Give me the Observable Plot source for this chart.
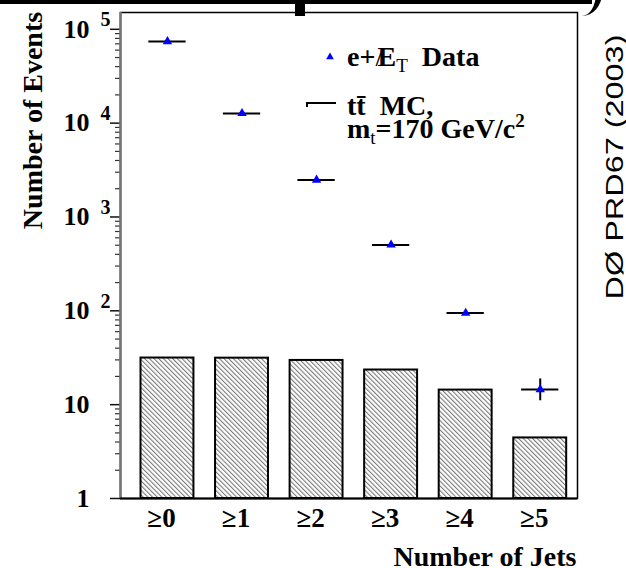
<!DOCTYPE html>
<html>
<head>
<meta charset="utf-8">
<script src="https://cdn.jsdelivr.net/npm/d3@7"></script>
<script src="https://cdn.jsdelivr.net/npm/@observablehq/plot@0.6"></script>
<style>
  body { margin: 0; background: #fff; }
  #wrap { position: relative; width: 626px; height: 568px; overflow: hidden; background: #fff; }
  #wrap svg { position: absolute; left: 0; top: 0; }
  .ink { position: absolute; background: #000; }
  .curl { position: absolute; border-right: 6px solid #000; border-radius: 50%; }
</style>
</head>
<body>
<div id="wrap"></div>
<script>
// Jet multiplicity: e + missing-ET data vs. ttbar Monte Carlo
const categories = ["≥0", "≥1", "≥2", "≥3", "≥4", "≥5"];
const dataEvents = [74000, 12700, 2480, 504, 94.5, 14.5];
const dataErrLow = [null, null, null, null, null, 11.0];
const dataErrHigh = [null, null, null, null, null, 18.8];
const mcEvents = [31.4, 31.3, 29.6, 23.4, 14.3, 4.42];

const yTickValues = [1, 10, 100, 1000, 10000, 100000];
const yTickBase = ["1", "10", "10", "10", "10", "10"];
const yTickExp = ["", "", "2", "3", "4", "5"];

// minor log ticks 2..9 in each decade
const yMinorTicks = [];
for (let e = 0; e < 5; e++) for (let m = 2; m <= 9; m++) yMinorTicks.push(m * Math.pow(10, e));

const rows = categories.map((label, i) => ({
  i, label,
  data: dataEvents[i], lo: dataErrLow[i], hi: dataErrHigh[i],
  mc: mcEvents[i]
}));

const xDomain = [-0.63, 5.5];
const barHalf = 0.355;
const errHalf = 0.25;
const serif = "'Liberation Serif','Times New Roman',Times,serif";
const sans = "'Liberation Sans',Arial,Helvetica,sans-serif";

const chart = Plot.plot({
  width: 626,
  height: 568,
  marginLeft: 120,
  marginRight: 49,
  marginTop: 12,
  marginBottom: 70,
  style: { fontFamily: serif, fontWeight: "bold", background: "white", overflow: "visible" },
  x: { type: "linear", domain: xDomain, axis: null },
  y: { type: "log", domain: [1, 1.51e5], axis: null },
  marks: [
    Plot.rect(rows, {
      x1: d => d.i - barHalf, x2: d => d.i + barHalf,
      y1: 1, y2: "mc",
      fill: "url(#hatch)", stroke: "black", strokeWidth: 2
    }),
    Plot.axisY({ ticks: yMinorTicks, tickSize: 5, tickFormat: () => "", stroke: "#333", strokeWidth: 1.2, label: null }),
    Plot.axisY({ ticks: yTickValues, tickSize: 10, tickFormat: () => "", stroke: "#111", strokeWidth: 1.5, label: null }),
    Plot.frame({ stroke: "black", strokeWidth: 1.5 }),
    Plot.ruleX([xDomain[0]], { stroke: "#777", strokeWidth: 2.5 }),
    Plot.ruleY([1], { stroke: "black", strokeWidth: 2 }),
    // data points with horizontal bin-width bars and statistical errors
    Plot.ruleY(rows, { y: "data", x1: d => d.i - errHalf, x2: d => d.i + errHalf, stroke: "black", strokeWidth: 2 }),
    Plot.ruleX(rows.filter(d => d.lo != null), { x: "i", y1: "lo", y2: "hi", stroke: "black", strokeWidth: 2 }),
    Plot.dot(rows, { x: "i", y: "data", symbol: "triangle", r: 3.5, fill: "blue" }),
    // y tick labels as 10 with raised exponent
    Plot.text(yTickValues, {
      y: d => d, text: (d, i) => yTickBase[i],
      frameAnchor: "left", textAnchor: "end", lineAnchor: "middle",
      dx: -31, fontSize: 26, fontFamily: serif, fontWeight: "bold"
    }),
    Plot.text(yTickValues, {
      y: d => d, text: (d, i) => yTickExp[i],
      frameAnchor: "left", textAnchor: "start", lineAnchor: "bottom",
      dx: -20, dy: -3, fontSize: 20, fontFamily: serif, fontWeight: "bold"
    }),
    // x tick labels
    Plot.text(categories, {
      x: (d, i) => i, text: d => d,
      frameAnchor: "bottom", lineAnchor: "bottom",
      dx: -6, dy: 28, fontSize: 27, fontFamily: serif, fontWeight: "bold"
    }),
    Plot.text(["Number of Jets"], {
      frameAnchor: "bottom-right", textAnchor: "end", lineAnchor: "bottom",
      dx: -1, dy: 67, fontSize: 28, fontFamily: serif, fontWeight: "bold"
    }),
    Plot.text(["Number of Events"], {
      frameAnchor: "top-left", rotate: -90, textAnchor: "middle", lineAnchor: "middle",
      dx: -87, dy: 108, fontSize: 28, fontFamily: serif, fontWeight: "bold"
    })
  ]
});

const svg = d3.select(chart);

// diagonal hatching for the MC histogram
const pat = svg.insert("defs", ":first-child")
  .append("pattern")
  .attr("id", "hatch")
  .attr("patternUnits", "userSpaceOnUse")
  .attr("width", 3.3)
  .attr("height", 3.3)
  .attr("patternTransform", "rotate(-45)");
pat.append("rect").attr("width", 3.3).attr("height", 3.3).attr("fill", "white");
pat.append("line")
  .attr("x1", 0.6).attr("y1", 0).attr("x2", 0.6).attr("y2", 3.3)
  .attr("stroke", "#555").attr("stroke-width", 0.85);

// legend
const leg = svg.append("g")
  .attr("font-family", serif)
  .attr("font-weight", "bold")
  .attr("font-size", 28)
  .attr("text-anchor", "start")
  .attr("fill", "black");

leg.append("path")
  .attr("d", d3.symbol(d3.symbolTriangle, 26)())
  .attr("transform", "translate(330,57)")
  .attr("fill", "blue");

const t1 = leg.append("text").attr("x", 347).attr("y", 66).style("white-space", "pre");
t1.append("tspan").text("e+");
t1.append("tspan").attr("font-weight", "normal").text("/");
t1.append("tspan").attr("dx", "-0.2em").text("E");
t1.append("tspan").attr("font-size", 19).attr("font-weight", "normal").attr("dy", 6).text("T");
t1.append("tspan").attr("dy", -6).text("  Data");

leg.append("path")
  .attr("d", "M307,107V103H336")
  .attr("fill", "none")
  .attr("stroke", "black")
  .attr("stroke-width", 2);

const t2 = leg.append("text").attr("x", 347).attr("y", 115).style("white-space", "pre");
t2.text("tt\u0304  MC,");

const t3 = leg.append("text").attr("x", 347).attr("y", 138).style("white-space", "pre");
t3.append("tspan").text("m");
t3.append("tspan").attr("font-size", 19).attr("font-weight", "normal").attr("dy", 6).text("t");
t3.append("tspan").attr("dy", -6).text("=170 GeV/c");
t3.append("tspan").attr("font-size", 19).attr("dy", -11).text("2");

// publication tag on the right edge
svg.append("text")
  .attr("transform", "translate(623,167) rotate(-90) scale(1.41,1)")
  .attr("text-anchor", "middle")
  .attr("font-family", sans)
  .attr("font-weight", "normal")
  .attr("font-size", 23)
  .attr("fill", "black")
  .text("DØ PRD67 (2003)");

const wrap = document.getElementById("wrap");
wrap.appendChild(chart);

// heavy strokes along the top edge
const bar = document.createElement("div");
bar.className = "ink";
Object.assign(bar.style, { left: "0px", top: "0px", width: "592px", height: "4px" });
wrap.appendChild(bar);
const blk = document.createElement("div");
blk.className = "ink";
Object.assign(blk.style, { left: "295px", top: "0px", width: "10px", height: "16px" });
wrap.appendChild(blk);
const curl = document.createElement("div");
curl.className = "curl";
Object.assign(curl.style, { left: "562px", top: "-30px", width: "34px", height: "46px" });
wrap.appendChild(curl);
</script>
</body>
</html>
